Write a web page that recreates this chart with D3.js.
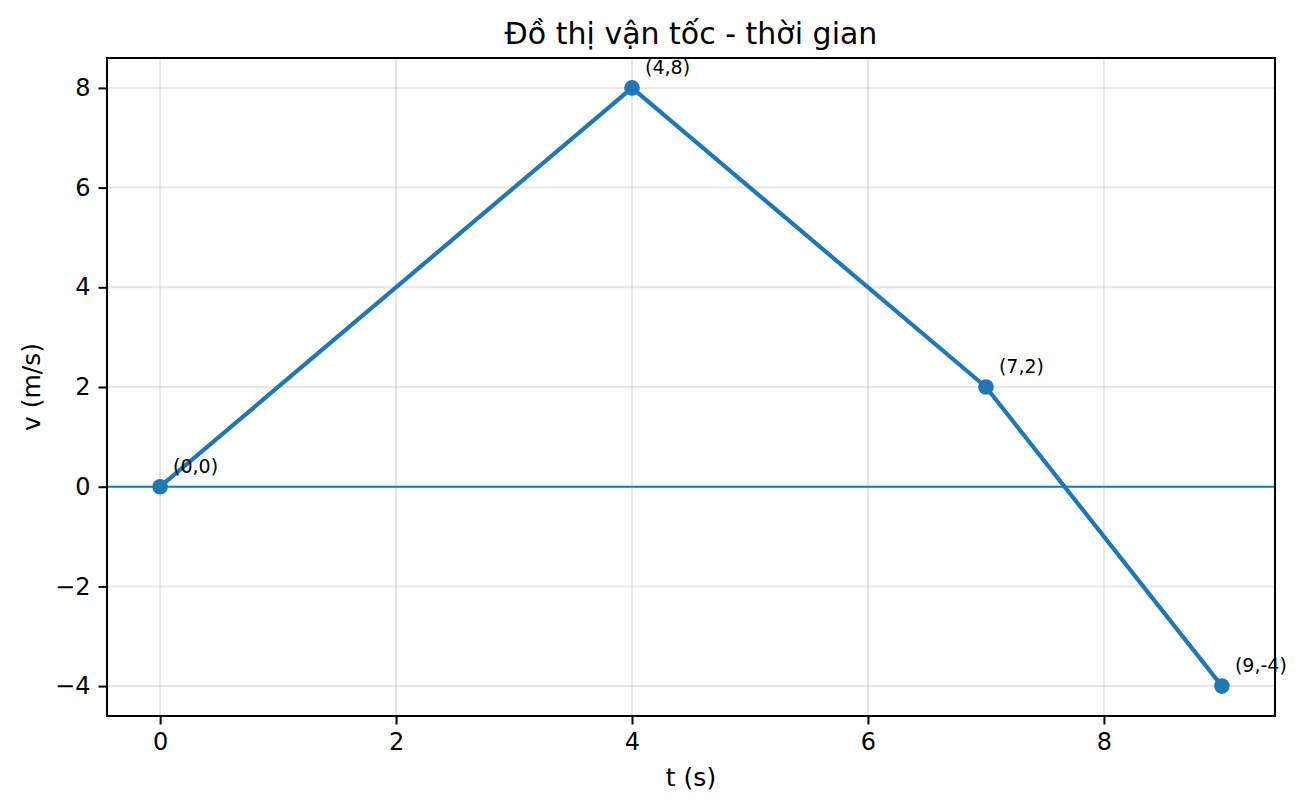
<!DOCTYPE html>
<html lang="vi">
<head>
<meta charset="UTF-8" />
<title>Đồ thị vận tốc - thời gian</title>
<script src="https://d3js.org/d3.v7.min.js"></script>
<style>
    body { margin: 0; background: #fff; }
    svg { font-family: "DejaVu Sans", sans-serif; }
    .tick line { stroke: #000; stroke-width: 2; }
    .grid line { stroke: #b0b0b0; stroke-opacity: 0.3; stroke-width: 2; }
</style>
</head>
<body>
<div class="canvas"></div>
<script>
    // dữ liệu
    const thoiGian = [0, 4, 7, 9];
    const vanToc = [0, 8, 2, -4];
    const nhan = ["(0,0)", "(4,8)", "(7,2)", "(9,-4)"];
    const xTicks = [0, 2, 4, 6, 8];
    const yTicks = [-4, -2, 0, 2, 4, 6, 8];

    const W = 1307, H = 809;
    const margin = { top: 58, right: 32, bottom: 93, left: 107 };
    const w = W - margin.left - margin.right;
    const h = H - margin.top - margin.bottom;

    const svg = d3.select(".canvas").append("svg")
        .attr("width", W).attr("height", H);
    const g = svg.append("g").attr("transform", `translate(${margin.left},${margin.top})`);

    const x = d3.scaleLinear().domain([-0.45, 9.45]).range([0, w]);
    const y = d3.scaleLinear().domain([-4.6, 8.6]).range([h, 0]);

    // lưới
    g.append("g").attr("class", "grid")
        .selectAll("line.gx").data(xTicks).enter().append("line")
        .attr("x1", d => x(d)).attr("x2", d => x(d)).attr("y1", 0).attr("y2", h);
    g.append("g").attr("class", "grid")
        .selectAll("line.gy").data(yTicks).enter().append("line")
        .attr("y1", d => y(d)).attr("y2", d => y(d)).attr("x1", 0).attr("x2", w);

    // trục v = 0
    g.append("line")
        .attr("x1", 0).attr("x2", w).attr("y1", y(0)).attr("y2", y(0))
        .attr("stroke", "#1f77b4").attr("stroke-width", 2);

    const pts = thoiGian.map((t, i) => ({ t: t, v: vanToc[i], lb: nhan[i] }));

    g.append("path").datum(pts)
        .attr("fill", "none").attr("stroke", "#1f77b4").attr("stroke-width", 4.2)
        .attr("stroke-linejoin", "round")
        .attr("d", d3.line().x(d => x(d.t)).y(d => y(d.v)));

    g.selectAll("circle.pt").data(pts).enter().append("circle")
        .attr("cx", d => x(d.t)).attr("cy", d => y(d.v)).attr("r", 7.8)
        .attr("fill", "#1f77b4");

    g.selectAll("text.lb").data(pts).enter().append("text")
        .attr("x", d => x(d.t) + 13).attr("y", d => y(d.v) - 14)
        .attr("font-size", 19).text(d => d.lb);

    // trục
    const ax = g.append("g").attr("transform", `translate(0,${h})`)
        .call(d3.axisBottom(x).tickValues(xTicks).tickSize(8.5).tickPadding(8).tickFormat(d3.format("d")));
    const ay = g.append("g")
        .call(d3.axisLeft(y).tickValues(yTicks).tickSize(8.5).tickPadding(8)
            .tickFormat(d => d < 0 ? "\u2212" + Math.abs(d) : d));
    [ax, ay].forEach(a => {
        a.select(".domain").remove();
        a.attr("font-family", "DejaVu Sans").attr("font-size", 24);
        a.selectAll(".tick text").attr("fill", "#000");
    });

    g.append("rect").attr("width", w).attr("height", h)
        .attr("fill", "none").attr("stroke", "#000").attr("stroke-width", 2);

    // tiêu đề và nhãn trục
    svg.append("text").attr("x", margin.left + w / 2).attr("y", 44)
        .attr("text-anchor", "middle").attr("font-size", 30)
        .text("Đồ thị vận tốc - thời gian");
    svg.append("text").attr("x", margin.left + w / 2).attr("y", 786)
        .attr("text-anchor", "middle").attr("font-size", 25)
        .text("t (s)");
    svg.append("text")
        .attr("transform", `translate(40,${margin.top + h / 2}) rotate(-90)`)
        .attr("text-anchor", "middle").attr("font-size", 25)
        .text("v (m/s)");
</script>
</body>
</html>
